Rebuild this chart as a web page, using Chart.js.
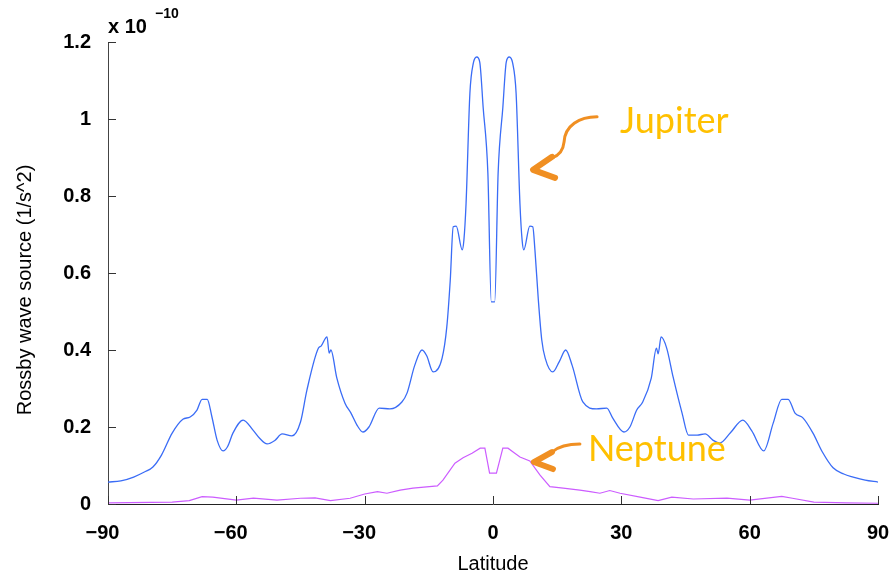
<!DOCTYPE html>
<html>
<head>
<meta charset="utf-8">
<script src="https://cdn.jsdelivr.net/npm/chart.js@4"></script>
<style>
  body { margin: 0; background: #fff; }
</style>
</head>
<body>
<canvas id="rossbyChart" width="892" height="576"></canvas>
<script>
// Jupiter, latitude (deg) and Rossby wave source (x 1e-10 1/s^2)
const jupiterLat = [
  -90, -87, -84, -81.5, -79.5, -77.5, -75, -72.5, -70.8, -69.2, -68, -66.8,
  -65.7, -64.5, -63.1, -62, -60.8, -58.4, -56.1, -54.5, -52.8, -51, -49.3,
  -47, -45, -43.5, -40.8, -40.2, -38.8, -38.3, -37.9, -36.5, -34.6, -33.2,
  -31.8, -30.4, -29, -26.6, -24.1, -21.3, -20.1, -18.3, -16.6, -15.5, -14,
  -11.9, -10.8, -10, -9.3, -8.6, -7.2, -6.8, -6.3, -5.4, -4.6, -3.8, -3.1,
  -2.3, -1.2, -0.4, 0.4, 1.2, 2.3, 3.1, 3.8, 4.6, 5.4, 6.3, 6.8, 7.2, 8.6,
  9.3, 9.8, 10.6, 11.4, 12.2, 14, 15.5, 17, 18.5, 21, 24.2, 26.6, 28, 30.6,
  32, 33.6, 35, 37, 38.2, 38.6, 39.3, 40.6, 42.1, 44.2, 45.7, 47.7, 49.6,
  51.4, 53, 55.5, 58.4, 60.5, 63.3, 65.5, 67.5, 69, 70.6, 72.5, 74.8, 77,
  79.5, 82, 84.2, 87, 90
];
const jupiterVal = [
  0.057, 0.06, 0.07, 0.083, 0.096, 0.127, 0.184, 0.22, 0.226, 0.244, 0.272, 0.272,
  0.226, 0.166, 0.138, 0.15, 0.184, 0.218, 0.192, 0.17, 0.156, 0.165, 0.182,
  0.177, 0.213, 0.296, 0.405, 0.41, 0.434, 0.392, 0.4, 0.327, 0.262, 0.236,
  0.205, 0.187, 0.2, 0.249, 0.247, 0.265, 0.288, 0.36, 0.4, 0.385, 0.343,
  0.379, 0.46, 0.58, 0.72, 0.722, 0.66, 0.686, 0.78, 1.067, 1.145, 1.161, 1.148,
  1.03, 0.86, 0.525, 0.525, 0.86, 1.03, 1.148, 1.161, 1.145, 1.067, 0.78, 0.686, 0.66, 0.722,
  0.72, 0.66, 0.53, 0.426, 0.379, 0.343, 0.37, 0.4, 0.36, 0.265, 0.247, 0.249, 0.223, 0.187,
  0.2, 0.244, 0.265, 0.327, 0.405, 0.39, 0.434, 0.405, 0.33, 0.236, 0.179, 0.179, 0.182,
  0.166, 0.158, 0.185, 0.218, 0.19, 0.138, 0.21, 0.272, 0.272, 0.236, 0.223, 0.184, 0.135,
  0.094, 0.078, 0.07, 0.062, 0.057
];

// Neptune
const neptuneLat = [
  -90, -75, -71, -68, -65.5, -60, -56, -50.5, -45, -41.6, -38, -33.4, -30,
  -27, -24.8, -21.7, -18.7, -13, -11.7, -8.9, -7, -4.9, -3, -1.9, -0.8, 0.8,
  2.3, 3.5, 4.7, 6.3, 8.6, 11, 13.3, 16.4, 20.3, 22.7, 25, 27.3, 29.7, 34.4,
  38.6, 41.8, 46.8, 54.7, 60, 67.5, 70, 75, 82.7, 90
];
const neptuneVal = [
  0.003, 0.005, 0.009, 0.019, 0.018, 0.01, 0.015, 0.01, 0.015, 0.016, 0.009, 0.015, 0.026,
  0.032, 0.028, 0.036, 0.041, 0.047, 0.062, 0.106, 0.12, 0.132, 0.145, 0.145, 0.08, 0.08,
  0.145, 0.145, 0.135, 0.122, 0.112, 0.075, 0.045, 0.041, 0.036, 0.032, 0.028, 0.035, 0.028, 0.018,
  0.009, 0.018, 0.013, 0.015, 0.01, 0.02, 0.015, 0.005, 0.003, 0.002
];

const xTicks = [-90, -60, -30, 0, 30, 60, 90];
const yTicks = [0, 0.2, 0.4, 0.6, 0.8, 1, 1.2];

// arrow tips for the labels, in data units
const jupiterTip = [8.9, 0.868];
const neptuneTip = [9.1, 0.109];

const toPoints = (xs, ys) => xs.map((v, i) => ({ x: v, y: ys[i] }));
// negative labels keep the digits centred on the tick, minus hangs left
const minus = (v) => (v < 0 ? "\u2212" + Math.abs(v) + "\u2007" : String(v));

const TICK_FONT = { family: "'Liberation Sans', Arial, sans-serif", size: 20, weight: "bold" };

const extras = {
  id: "extras",
  afterDraw(chart) {
    const { ctx, chartArea } = chart;
    const xs = chart.scales.x;
    const ys = chart.scales.y;
    ctx.save();

    // inward tick marks
    ctx.strokeStyle = "#333";
    ctx.lineWidth = 1;
    ctx.beginPath();
    xTicks.forEach((t) => {
      const px = Math.round(xs.getPixelForValue(t)) + 0.5;
      ctx.moveTo(px, chartArea.bottom);
      ctx.lineTo(px, chartArea.bottom - 8);
    });
    yTicks.forEach((t) => {
      const py = Math.round(ys.getPixelForValue(t)) + 0.5;
      ctx.moveTo(chartArea.left, py);
      ctx.lineTo(chartArea.left + 8, py);
    });
    ctx.stroke();

    // exponent label
    ctx.fillStyle = "#000";
    ctx.textBaseline = "alphabetic";
    ctx.textAlign = "left";
    ctx.font = "bold 20px 'Liberation Sans', Arial, sans-serif";
    ctx.fillText("x 10", chartArea.left, 33);
    ctx.font = "bold 14px 'Liberation Sans', Arial, sans-serif";
    ctx.fillText("\u221210", chartArea.left + 47, 18);

    // y axis title
    ctx.save();
    ctx.translate(25, 290);
    ctx.rotate(-Math.PI / 2);
    ctx.textAlign = "center";
    ctx.textBaseline = "middle";
    ctx.font = "20px 'Liberation Sans', Arial, sans-serif";
    ctx.fillText("Rossby wave source (1/s^2)", 0, 0);
    ctx.restore();

    // labelled arrows
    const drawArrow = (tip, curve, upper, lower) => {
      const tx = xs.getPixelForValue(tip[0]);
      const ty = ys.getPixelForValue(tip[1]);
      ctx.strokeStyle = "#f08f22";
      ctx.lineCap = "round";
      ctx.lineJoin = "round";
      ctx.lineWidth = 3;
      ctx.beginPath();
      ctx.moveTo(tx + curve[0], ty + curve[1]);
      for (let i = 2; i < curve.length; i += 6) {
        ctx.bezierCurveTo(
          tx + curve[i], ty + curve[i + 1],
          tx + curve[i + 2], ty + curve[i + 3],
          tx + curve[i + 4], ty + curve[i + 5]
        );
      }
      ctx.stroke();
      ctx.lineWidth = 6;
      ctx.beginPath();
      ctx.moveTo(tx + upper[0], ty + upper[1]);
      ctx.lineTo(tx + 2, ty);
      ctx.lineTo(tx + lower[0], ty + lower[1]);
      ctx.stroke();
      return [tx, ty];
    };

    const jt = drawArrow(jupiterTip,
      [66, -53, 48, -53, 34, -44, 33, -28, 32, -18, 27, -14, 21, -12],
      [21, -13], [24, 8]);
    const nt = drawArrow(neptuneTip,
      [48, -18, 36, -18, 26, -15, 20, -10],
      [20, -10], [21, 7]);

    ctx.fillStyle = "#ffc000";
    ctx.font = "36px Lato, 'Open Sans', sans-serif";
    ctx.textAlign = "left";
    ctx.textBaseline = "alphabetic";
    ctx.fillText("Jupiter", jt[0] + 89, jt[1] - 37);
    ctx.fillText("Neptune", nt[0] + 56, nt[1] - 1);

    ctx.restore();
  },
};

new Chart(document.getElementById("rossbyChart"), {
  type: "line",
  data: {
    datasets: [
      {
        label: "Jupiter",
        data: toPoints(jupiterLat, jupiterVal),
        borderColor: "#3a6cf6",
        borderWidth: 1.3,
        pointRadius: 0,
        cubicInterpolationMode: "monotone",
        fill: false,
      },
      {
        label: "Neptune",
        data: toPoints(neptuneLat, neptuneVal),
        borderColor: "#cc5cff",
        borderWidth: 1.2,
        pointRadius: 0,
        tension: 0,
        fill: false,
      },
    ],
  },
  options: {
    responsive: false,
    animation: false,
    devicePixelRatio: 1,
    layout: { padding: { left: 0, right: 14, top: 42, bottom: 0 } },
    plugins: {
      legend: { display: false },
      tooltip: { enabled: false },
    },
    scales: {
      x: {
        type: "linear",
        min: -90,
        max: 90,
        afterBuildTicks: (scale) => {
          scale.ticks = xTicks.map((v) => ({ value: v }));
        },
        afterFit: (scale) => {
          scale.height = 72;
          scale.paddingLeft = 0;
          scale.paddingRight = 0;
        },
        grid: { display: false },
        border: { display: true, color: "#222", width: 1 },
        ticks: {
          color: "#000",
          font: TICK_FONT,
          padding: 9,
          maxRotation: 0,
          callback: (v) => minus(v),
        },
        title: {
          display: true,
          text: "Latitude",
          color: "#000",
          font: { family: "'Liberation Sans', Arial, sans-serif", size: 20 },
          padding: { top: 0, bottom: 0 },
        },
      },
      y: {
        type: "linear",
        min: 0,
        max: 1.2,
        afterBuildTicks: (scale) => {
          scale.ticks = yTicks.map((v) => ({ value: v }));
        },
        afterFit: (scale) => {
          scale.width = 108;
          scale.paddingTop = 0;
          scale.paddingBottom = 0;
        },
        grid: { display: false },
        border: { display: true, color: "#444", width: 1 },
        ticks: {
          color: "#000",
          font: TICK_FONT,
          padding: 9,
          callback: (v) => String(v),
        },
      },
    },
  },
  plugins: [extras],
});
</script>
</body>
</html>
